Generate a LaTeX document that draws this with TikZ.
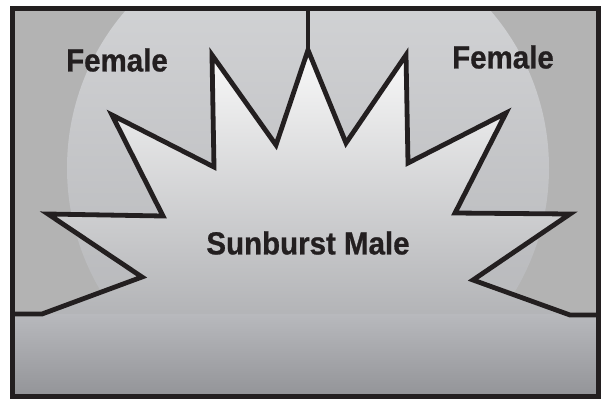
\documentclass[tikz,border=0pt]{standalone}
\usepackage{fontspec}
\setmainfont{Liberation Sans}[BoldFeatures={FakeBold=0.8}]
\definecolor{outergray}{HTML}{B3B3B3}
\definecolor{inkc}{HTML}{231F20}
\definecolor{circtop}{HTML}{D7D8DA}
\definecolor{circbot}{HTML}{B0B1B4}
\definecolor{startop}{HTML}{F9F9F9}
\definecolor{starbot}{HTML}{B3B4B7}
\definecolor{paneltop}{HTML}{B8B9BD}
\definecolor{panelbot}{HTML}{939498}
\tikzset{
  outline/.style={draw=inkc, line width=4.8pt, line join=miter, miter limit=20},
  frame/.style={draw=inkc, line width=5pt},
  label/.style={font=\fontsize{29.5}{34}\selectfont\bfseries, text=inkc, inner sep=0pt, yscale=1.08}
}
\begin{document}
\begin{tikzpicture}[x=1pt,y=-1pt]
\useasboundingbox (0,0) rectangle (603,400);
\fill[white] (0,0) rectangle (603,400);
% outer background
\fill[outergray] (12,8) rectangle (598,396);
% light disc
\begin{scope}
  \clip (12,8) rectangle (598,314);
  \shade[top color=circtop, bottom color=circbot] (308,168) circle (241);
\end{scope}
% star fill
\shade[top color=startop, bottom color=starbot]
  (42,314) -- (142,277) -- (48,214) -- (163,216) -- (112,115) -- (214,167)
  -- (212,55) -- (276,145) -- (308,50) -- (346,143) -- (406,55) -- (408,163)
  -- (506,113) -- (455,213) -- (570,214) -- (473,280) -- (570,315) -- cycle;
% bottom panel
\shade[top color=paneltop, bottom color=panelbot] (12,314) rectangle (598,396);
% star outline
\coordinate (bl) at (12,314);
\coordinate (br) at (598,315);
\coordinate (topc) at (308,8);
\coordinate (tip) at (308,50);
\draw[outline] (bl) -- (42,314) -- (142,277) -- (48,214) -- (163,216) -- (112,115) -- (214,167)
  -- (212,55) -- (276,145) -- (tip) -- (346,143) -- (406,55) -- (408,163)
  -- (506,113) -- (455,213) -- (570,214) -- (473,280) -- (570,315) -- (br);
\draw[outline, line cap=butt] (topc) -- (tip);
% frame
\draw[frame] (12,8) rectangle (598,396);
% labels
\node[label] (femL) at (117,60) {Female};
\node[label] (femR) at (503,57) {Female};
\node[label] (male) at (308,243) {Sunburst Male};
\end{tikzpicture}
\end{document}
